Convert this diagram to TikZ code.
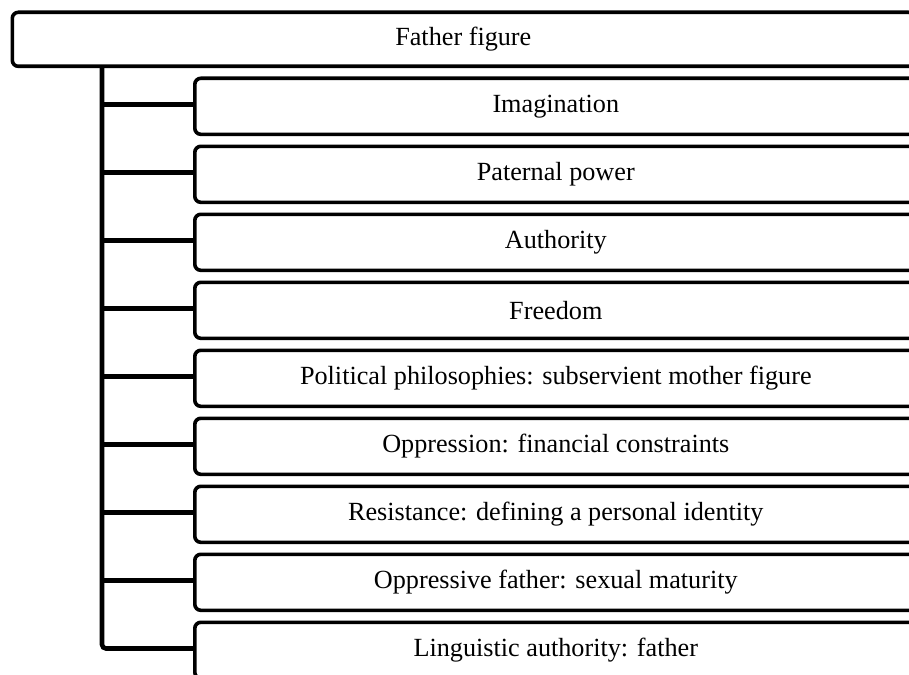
\documentclass[tikz,border=0pt]{standalone}
\usepackage{fontspec}
\setmainfont{Liberation Serif}
\begin{document}
\begin{tikzpicture}[x=1pt,y=-1pt,
  box/.style={draw=black, line width=3.6pt, rounded corners=6pt, fill=white,
    minimum height=56pt, inner sep=0pt, anchor=north west,
    font=\fontsize{26.2}{30}\selectfont},
  topbox/.style={box, minimum width=902pt, minimum height=54pt},
  childbox/.style={box, minimum width=722pt},
  link/.style={draw=black, line width=4.6pt, rounded corners=4pt}]
\useasboundingbox (0,0) rectangle (909,674);
\clip (0,0) rectangle (909,674);

% trunk start, hidden under the top box
\coordinate (trunk) at (102,40);
\coordinate (b9end) at (193,648.5);

% branches first, so the boxes sit on top of their ends
\draw[link] (trunk) |- (b9end);
\foreach \i in {1,...,8} {
  \draw[link] (102,{104.5+68*(\i-1)}) -- (193,{104.5+68*(\i-1)});
}

\node[topbox] (top) at (10.5,10.5) {Father figure};
\node[childbox] (c1) at (193,76.5)  {Imagination};
\node[childbox] (c2) at (193,144.5) {Paternal power};
\node[childbox] (c3) at (193,212.5) {Authority};
\node[childbox] (c4) at (193,280.5) {Freedom};
\node[childbox] (c5) at (193,348.5) {Political philosophies: subservient mother figure};
\node[childbox] (c6) at (193,416.5) {Oppression: financial constraints};
\node[childbox] (c7) at (193,484.5) {Resistance: defining a personal identity};
\node[childbox] (c8) at (193,552.5) {Oppressive father: sexual maturity};
\node[childbox] (c9) at (193,620.5) {Linguistic authority: father};
\end{tikzpicture}
\end{document}
